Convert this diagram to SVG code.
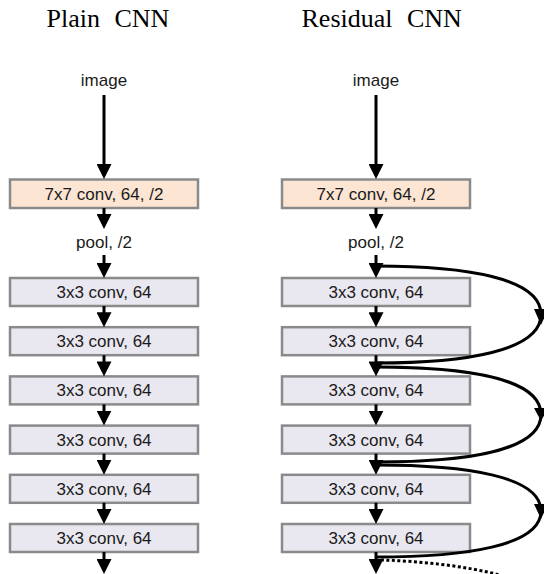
<svg xmlns="http://www.w3.org/2000/svg" width="544" height="574" viewBox="0 0 544 574">
  <style>
    .title { font-family: "Liberation Serif", "Times New Roman", serif; font-size: 26px; fill: #000; word-spacing: 8px; }
    .lbl { font-family: "Liberation Sans", Arial, sans-serif; font-size: 17px; fill: #1a1a1a; text-anchor: middle; }
    .conv { fill: #e9e7ef; stroke: #8a8a8a; stroke-width: 2.5; }
    .stem { fill: #fce5d3; stroke: #8a8a8a; stroke-width: 2.5; }
    .flow { stroke: #000; stroke-width: 3; fill: none; marker-end: url(#ah); }
    .skip { stroke: #000; stroke-width: 3; fill: none; }
    .dots { stroke: #000; stroke-width: 3; fill: none; stroke-dasharray: 3 2.5; }
    .head { fill: #000; }
  </style>
  <defs>
    <marker id="ah" markerUnits="userSpaceOnUse" markerWidth="15" markerHeight="15" refX="5" refY="7.5" orient="auto">
      <path d="M0,0 L15,7.5 L0,15 z" fill="#000"/>
    </marker>
  </defs>

  <rect width="544" height="574" fill="#fff"/>

  <!-- column titles -->
  <text class="title" x="46.5" y="26.5">Plain CNN</text>
  <text class="title" x="301.5" y="26.5">Residual CNN</text>

  <!-- plain network -->
  <g id="plain-image"><text class="lbl" x="104" y="86">image</text></g>
  <g id="plain-conv7"><rect class="stem" x="10" y="179.5" width="188" height="28.5"/><text class="lbl" x="104" y="200">7x7 conv, 64, /2</text></g>
  <g id="plain-pool"><text class="lbl" x="104" y="248">pool, /2</text></g>
  <g id="plain-conv1"><rect class="conv" x="10" y="278" width="188" height="28"/><text class="lbl" x="104" y="298">3x3 conv, 64</text></g>
  <g id="plain-conv2"><rect class="conv" x="10" y="327.2" width="188" height="28"/><text class="lbl" x="104" y="347.2">3x3 conv, 64</text></g>
  <g id="plain-conv3"><rect class="conv" x="10" y="376.4" width="188" height="28"/><text class="lbl" x="104" y="396.4">3x3 conv, 64</text></g>
  <g id="plain-conv4"><rect class="conv" x="10" y="425.6" width="188" height="28"/><text class="lbl" x="104" y="445.6">3x3 conv, 64</text></g>
  <g id="plain-conv5"><rect class="conv" x="10" y="474.8" width="188" height="28"/><text class="lbl" x="104" y="494.8">3x3 conv, 64</text></g>
  <g id="plain-conv6"><rect class="conv" x="10" y="524" width="188" height="28"/><text class="lbl" x="104" y="544">3x3 conv, 64</text></g>

  <!-- residual network -->
  <g id="res-image"><text class="lbl" x="376" y="86">image</text></g>
  <g id="res-conv7"><rect class="stem" x="282" y="179.5" width="188" height="28.5"/><text class="lbl" x="376" y="200">7x7 conv, 64, /2</text></g>
  <g id="res-pool"><text class="lbl" x="376" y="248">pool, /2</text></g>
  <g id="res-conv1"><rect class="conv" x="282" y="278" width="188" height="28"/><text class="lbl" x="376" y="298">3x3 conv, 64</text></g>
  <g id="res-conv2"><rect class="conv" x="282" y="327.2" width="188" height="28"/><text class="lbl" x="376" y="347.2">3x3 conv, 64</text></g>
  <g id="res-conv3"><rect class="conv" x="282" y="376.4" width="188" height="28"/><text class="lbl" x="376" y="396.4">3x3 conv, 64</text></g>
  <g id="res-conv4"><rect class="conv" x="282" y="425.6" width="188" height="28"/><text class="lbl" x="376" y="445.6">3x3 conv, 64</text></g>
  <g id="res-conv5"><rect class="conv" x="282" y="474.8" width="188" height="28"/><text class="lbl" x="376" y="494.8">3x3 conv, 64</text></g>
  <g id="res-conv6"><rect class="conv" x="282" y="524" width="188" height="28"/><text class="lbl" x="376" y="544">3x3 conv, 64</text></g>

  <g id="connectors">
    <!-- plain trunk -->
    <line class="flow" x1="104" y1="95" x2="104" y2="169"/>
    <line class="flow" x1="104" y1="208" x2="104" y2="219"/>
    <line class="flow" x1="104" y1="255" x2="104" y2="268"/>
    <line class="flow" x1="104" y1="306" x2="104" y2="317.2"/>
    <line class="flow" x1="104" y1="355.2" x2="104" y2="366.4"/>
    <line class="flow" x1="104" y1="404.4" x2="104" y2="415.6"/>
    <line class="flow" x1="104" y1="453.6" x2="104" y2="464.8"/>
    <line class="flow" x1="104" y1="502.8" x2="104" y2="514"/>
    <line class="flow" x1="104" y1="552" x2="104" y2="564"/>

    <!-- residual trunk -->
    <line class="flow" x1="376" y1="95" x2="376" y2="169"/>
    <line class="flow" x1="376" y1="208" x2="376" y2="219"/>
    <line class="flow" x1="376" y1="255" x2="376" y2="268"/>
    <line class="flow" x1="376" y1="306" x2="376" y2="317.2"/>
    <line class="flow" x1="376" y1="355.2" x2="376" y2="366.4"/>
    <line class="flow" x1="376" y1="404.4" x2="376" y2="415.6"/>
    <line class="flow" x1="376" y1="453.6" x2="376" y2="464.8"/>
    <line class="flow" x1="376" y1="502.8" x2="376" y2="514"/>
    <line class="flow" x1="376" y1="552" x2="376" y2="564"/>

    <!-- identity shortcuts -->
    <path class="skip" d="M376,266 C465,266 541,278 541,314.5 C541,351 465,363 376,363"/>
    <polygon class="head" points="534,309 548,309 541,325"/>
    <path class="skip" d="M376,367 C465,367 541,378 541,414.5 C541,451 465,462 376,462"/>
    <polygon class="head" points="534,408 548,408 541,421"/>
    <path class="skip" d="M376,465 C465,465 541,476 541,511 C541,546 465,557 376,557"/>
    <polygon class="head" points="534,504 548,504 541,519"/>
    <path class="dots" d="M381,560 C420,561 465,566 500,575"/>
  </g>
</svg>
